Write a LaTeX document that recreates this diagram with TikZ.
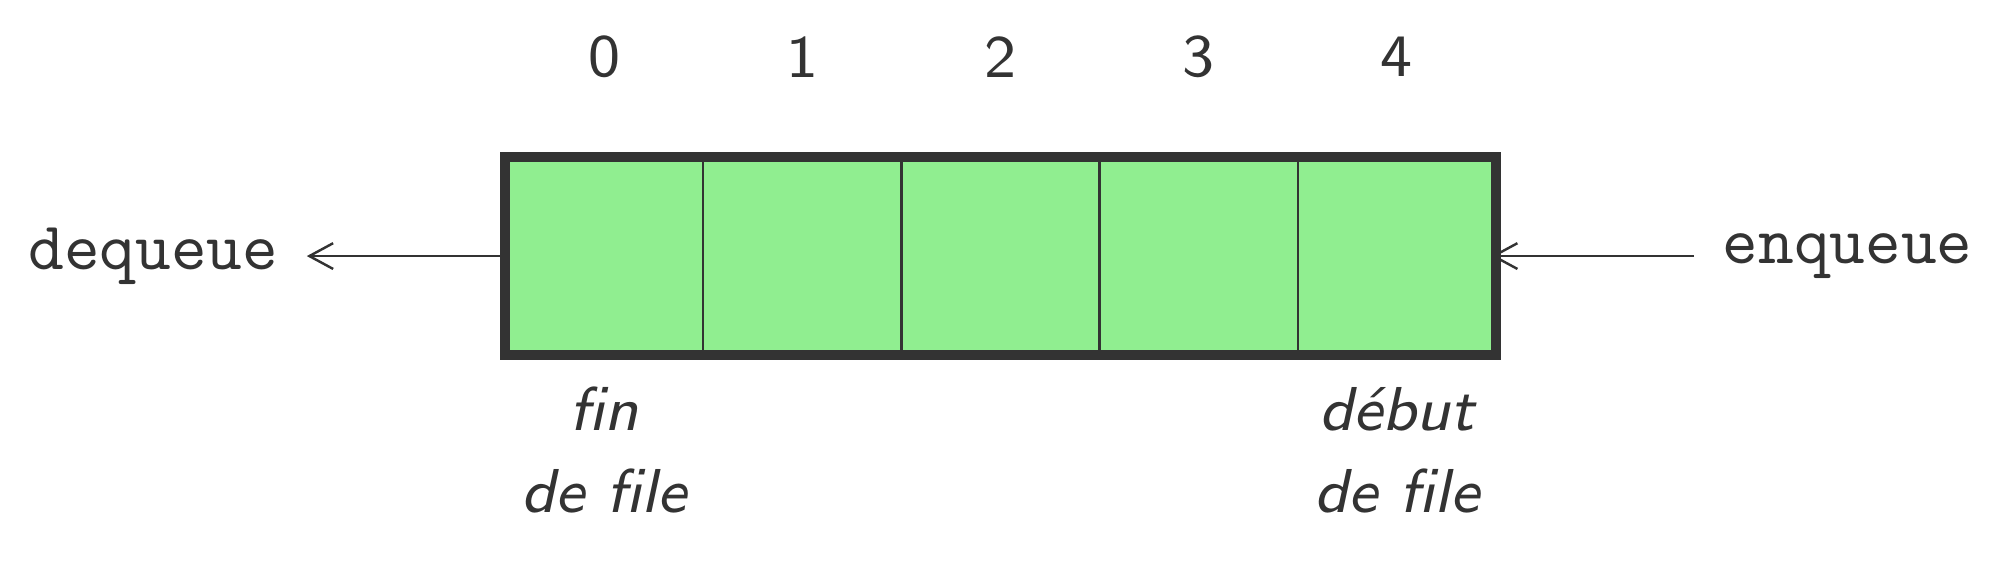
\documentclass[tikz,border=0pt]{standalone}
\usepackage{fontspec}
\usetikzlibrary{arrows.meta,positioning}
\newfontfamily\idxfont{lmsans8-regular.otf}
\newfontfamily\lblfont{lmsans8-oblique.otf}
\newfontfamily\opfont{lmmono10-regular.otf}
\definecolor{filegreen}{HTML}{90EE90}
\definecolor{filegray}{HTML}{333333}

\begin{document}
\begin{tikzpicture}[>={Straight Barb[length=2.4mm,width=2.6mm]},
    every node/.style={text=filegray},
    cell/.style={draw=filegray, line width=0.7pt, fill=filegreen, minimum size=2cm, inner sep=0pt, outer sep=0pt},
    idx/.style={font=\fontsize{17.28}{22}\selectfont\idxfont},
    op/.style={font=\fontsize{19.5}{23}\selectfont\opfont, inner sep=8pt},
    lbl/.style={font=\fontsize{17.8}{23.5}\selectfont\lblfont, align=center, anchor=north}]
    \useasboundingbox (-5.096,-2.087) rectangle (15.035,3.584);
    % the five slots of the queue, with their index on top
    \foreach \i in {0,...,4} {
        \node[cell] (c\i) at (2*\i+1,1) {};
        \node[idx] (n\i) at (2*\i+1,3.01) {\i};
    }
    \draw[line width=1mm, filegray] (c0.north west) rectangle (c4.south east);
    % operations
    \node[op, left=2cm of c0.west] (deq) {dequeue};
    \node[op, right=2cm of c4.east] (enq) {enqueue};
    \draw[->, filegray, line width=0.7pt] (c0.west) -- (deq);
    \draw[->, filegray, line width=0.7pt, shorten >=-0.5mm] (enq) -- (c4.east);
    % ends of the queue
    \node[lbl] (fin) at (1,-0.2) {fin\\de file};
    \node[lbl] (debut) at (9,-0.2) {début\\de file};
\end{tikzpicture}
\end{document}
